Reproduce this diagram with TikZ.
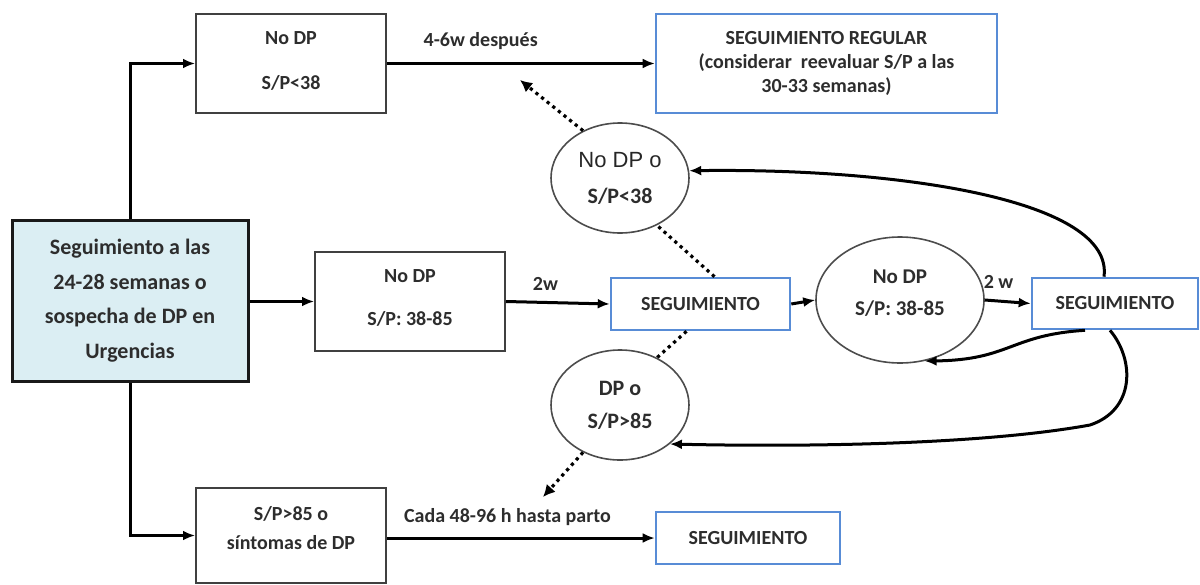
\documentclass[tikz,border=0pt]{standalone}
\usepackage{fontspec}
\setmainfont{Carlito}
\newfontfamily\arialf{Liberation Sans}
\usetikzlibrary{arrows.meta,shapes.geometric}
\definecolor{bluebd}{RGB}{88,140,214}
\definecolor{tealfill}{RGB}{219,238,243}
\definecolor{txt}{RGB}{45,45,45}
\begin{document}
\begin{tikzpicture}[x=0.5pt,y=-0.5pt,
  every node/.style={text=txt},
  box/.style={draw=black!75, line width=1pt, align=center, inner sep=0pt,
    font=\bfseries\fontsize{10}{11}\selectfont},
  bluebox/.style={draw=bluebd, line width=1.3pt, align=center, inner sep=0pt,
    font=\bfseries\fontsize{10}{12.2}\selectfont},
  ell/.style={ellipse, draw=black!70, line width=0.8pt, align=center, inner sep=0pt,
    font=\bfseries\fontsize{10}{11}\selectfont},
  txtn/.style={align=center, inner sep=0pt},
  lbl/.style={font=\bfseries\fontsize{10}{11}\selectfont},
  arr/.style={-{Latex[length=6pt,width=5pt]}, line width=1.5pt},
  dotarr/.style={dotted, line width=1.6pt, -{Latex[length=6pt,width=6pt]}},
  dotln/.style={dotted, line width=1.6pt}]
\useasboundingbox (0,0) rectangle (1200,584);

% nodes
\node[box, minimum width=95pt, minimum height=49.5pt] (top) at (291,63.5) {};
\node[txtn, font=\bfseries\fontsize{10}{11}\selectfont] (topt) at (291,61) {No DP\\[11.5pt]S/P<38};
\node[bluebox, minimum width=170.5pt, minimum height=49.5pt] (reg) at (826.5,63.5)
  {SEGUIMIENTO REGULAR\\(considerar\ \ reevaluar S/P a las\\30-33 semanas)};
\node[box, draw=black!90, line width=1.5pt, fill=tealfill, minimum width=118pt, minimum height=80.5pt,
  font=\bfseries\fontsize{11}{17.3}\selectfont] (start) at (130,300.5)
  {Seguimiento a las\\24-28 semanas o\\sospecha de DP en\\Urgencias};
\node[box, minimum width=95pt, minimum height=49.5pt] (mid) at (410,301.5) {};
\node[txtn, font=\bfseries\fontsize{10}{11}\selectfont] (midt) at (410,298) {No DP\\[10.5pt]S/P: 38-85};
\node[bluebox, minimum width=89.5pt, minimum height=26pt] (segm) at (700.5,304) {SEGUIMIENTO};
\node[ell, minimum width=84pt, minimum height=63pt] (emid) at (900,300) {};
\node[txtn, font=\bfseries\fontsize{10.5}{16}\selectfont] (emidt) at (900,293) {No DP\\S/P: 38-85};
\node[bluebox, minimum width=83pt, minimum height=25.5pt] (segr) at (1115,303.5) {SEGUIMIENTO};
\node[ell, minimum width=69pt, minimum height=55pt, font=\fontsize{11}{18}\selectfont] (eup) at (620,178)
  {{\arialf\color{black!85}No DP o}\\\bfseries S/P<38};
\node[ell, minimum width=69pt, minimum height=55pt, font=\bfseries\fontsize{11}{16.5}\selectfont] (elo) at (620,405)
  {DP o\\S/P>85};
\node[box, minimum width=95pt, minimum height=47.5pt] (bot) at (291,535.5) {};
\node[txtn, font=\bfseries\fontsize{10}{14.5}\selectfont] (bott) at (291,528) {S/P>85 o\\síntomas de DP};
\node[bluebox, minimum width=92pt, minimum height=26pt] (segb) at (748,538) {SEGUIMIENTO};

\coordinate (t1) at (520,80);
\coordinate (t2) at (543,497);

% connectors
\draw[arr] (start.north) |- (top.west);
\draw[arr] (start.south) |- (bot.west);
\draw[arr] (top.east) -- node[lbl, above, pos=0.35, yshift=3pt] {4-6w después} (reg.west);
\draw[arr] (start.east |- mid.west) -- (mid.west);
\draw[arr] (mid.east) -- node[lbl, above, pos=0.38, yshift=2pt] {2w} (segm.west);
\draw[arr] (segm.east) -- (emid.west);
\draw[arr] (emid.east) -- node[lbl, above, pos=0.3, yshift=2pt] {2 w} (segr.west);
\draw[arr] (bot.east |- segb.west) -- node[lbl, above, pos=0.45, yshift=2pt] {Cada 48-96 h hasta parto} (segb.west);

\draw[dotln] ([xshift=7pt]segm.north) -- (eup.-52);
\draw[dotarr] (eup.128) -- (t1);
\draw[dotln] ([xshift=-7pt]segm.south) -- (elo.52);
\draw[dotarr] (elo.-128) -- (t2);

\draw[arr] ([xshift=-5.5pt]segr.north) .. controls (1114,200) and (900,168) .. (eup.6);
\draw[arr] ([xshift=-15pt]segr.south) .. controls (1010,335) and (1010,360) .. (emid.-68);
\draw[arr] ([xshift=-2.5pt]segr.south) .. controls (1135,360) and (1135,410) .. (1090,425)
  .. controls (980,445) and (800,447) .. (elo.-38);
\end{tikzpicture}
\end{document}
